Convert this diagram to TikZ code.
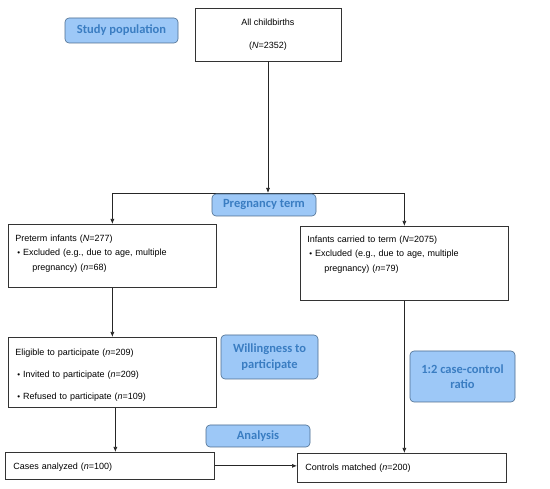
\documentclass[tikz,border=0pt]{standalone}
\usepackage{fontspec}
\setmainfont{Liberation Sans}
\newfontfamily\tagfont{Carlito}
\usepackage{xcolor}
\usepackage{tikz}
\usetikzlibrary{arrows.meta,positioning}

\definecolor{tagfill}{HTML}{9DC8F7}
\definecolor{tagline}{HTML}{4D6D8F}
\definecolor{tagtext}{HTML}{3A7DC2}

\newcommand{\itembul}{\hspace*{2pt}{\footnotesize\textbullet}\hspace{3pt}}

\begin{document}
\begin{tikzpicture}[
    x=1pt, y=-1pt,
    font=\fontsize{9}{14.5}\selectfont,
    box/.style={
        rectangle,
        draw=black!80,
        line width=0.7pt,
        anchor=north west,
        align=left,
        inner xsep=7pt,
        inner ysep=0pt,
        text width=194pt
    },
    topbox/.style={
        rectangle,
        draw=black!80,
        line width=0.7pt,
        align=center,
        minimum width=146pt,
        minimum height=53pt
    },
    tag/.style={
        rectangle,
        rounded corners=4pt,
        draw=tagline,
        line width=0.6pt,
        fill=tagfill,
        text=tagtext,
        align=center,
        inner sep=1pt,
        font=\tagfont\bfseries\fontsize{12.5}{15.5}\selectfont
    },
    arrow/.style={-{Latex[length=5pt,width=4pt]}, line width=0.7pt, draw=black!85}
]

\path[use as bounding box, fill=white] (0,0) rectangle (550,489);

% boxes
\node[topbox] (all) at (268,34.5) {All childbirths\\[8.5pt](\textit{N}=2352)};
\node[box, text height=17pt, text depth=46pt] (preterm) at (8,224)
    {Preterm infants (\textit{N}=277)\\
     \itembul Excluded (e.g., due to age, multiple\\
     \hspace*{17pt}pregnancy) (\textit{n}=68)};
\node[box, text height=16pt, text depth=58pt] (term) at (300,226)
    {Infants carried to term (\textit{N}=2075)\\
     \itembul Excluded (e.g., due to age, multiple\\
     \hspace*{17pt}pregnancy) (\textit{n}=79)};
\node[box, text height=18pt, text depth=52pt] (eligible) at (8,337)
    {Eligible to participate (\textit{n}=209)\\[7.5pt]
     \itembul Invited to participate (\textit{n}=209)\\[7.5pt]
     \itembul Refused to participate (\textit{n}=109)};
\node[box, inner xsep=8pt, text width=193pt, text height=17pt, text depth=10pt] (cases) at (5,452)
    {Cases analyzed (\textit{n}=100)};
\node[box, inner xsep=8pt, text width=193pt, text height=17pt, text depth=12pt] (controls) at (297,453)
    {Controls matched (\textit{n}=200)};

% connectors
\coordinate (split) at (268,193);
\draw[arrow] (all) -- (split);
\draw[arrow] (split) -| (preterm.north);
\draw[arrow] (split) -| (term.north);
\draw[arrow] (preterm) -- (eligible);
\draw[arrow] ([xshift=3pt]eligible.south) -- ([xshift=3pt]eligible.south |- cases.north);
\draw[arrow] (term) -- (term.south |- controls.north);
\draw[arrow] (cases.east) -- (cases.east -| controls.west);

% stage labels
\node[tag, minimum width=113pt, minimum height=25pt] (study) at (121.5,30.5) {Study population};
\node[tag, minimum width=104pt, minimum height=22pt] (pregterm) at (264,205) {Pregnancy term};
\node[tag, minimum width=97pt, minimum height=44pt] (willing) at (269.5,357) {Willingness to\\participate};
\node[tag, minimum width=105pt, minimum height=51pt] (ratio) at (462.5,376.5) {1:2 case-control\\ratio};
\node[tag, minimum width=104pt, minimum height=22pt] (analysis) at (258,436) {Analysis};

\end{tikzpicture}
\end{document}
